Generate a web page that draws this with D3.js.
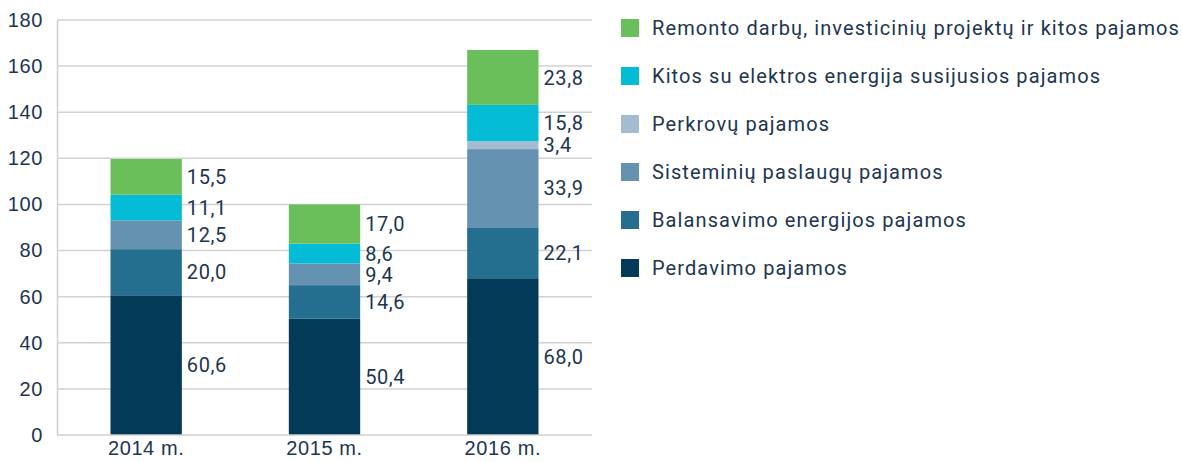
<!DOCTYPE html>
<html>
<head>
<meta charset="utf-8">
<script src="https://cdn.jsdelivr.net/npm/d3@7"></script>
<style>
  body { margin: 0; background: #fff; }
  svg { display: block; font-family: Roboto, "Noto Sans", sans-serif; }
</style>
</head>
<body>
<svg id="chart"></svg>
<script>
// Data
const years = ["2014 m.", "2015 m.", "2016 m."];
const seriesNames = [
  "Perdavimo pajamos",
  "Balansavimo energijos pajamos",
  "Sisteminių paslaugų pajamos",
  "Perkrovų pajamos",
  "Kitos su elektros energija susijusios pajamos",
  "Remonto darbų, investicinių projektų ir kitos pajamos"
];
const perdavimo = [60.6, 50.4, 68.0];
const balansavimo = [20.0, 14.6, 22.1];
const sisteminiu = [12.5, 9.4, 33.9];
const perkrovu = [0, 0, 3.4];
const kitosElektros = [11.1, 8.6, 15.8];
const remonto = [15.5, 17.0, 23.8];
const yTicks = [0, 20, 40, 60, 80, 100, 120, 140, 160, 180];

const seriesValues = [perdavimo, balansavimo, sisteminiu, perkrovu, kitosElektros, remonto];
const colors = ["#033a57", "#246f8f", "#6492b0", "#a4bccf", "#05bcd6", "#6abf5a"];
const textColor = "#1c3550";

const width = 1182, height = 462;
const margin = { left: 57, right: 592, top: 20, bottom: 435 };

const svg = d3.select("#chart").attr("width", width).attr("height", height);

const rows = years.map((y, i) => {
  const r = { year: y };
  seriesNames.forEach((s, j) => { r[s] = seriesValues[j][i]; });
  return r;
});

const stack = d3.stack().keys(seriesNames);
const stacked = stack(rows);

const x = d3.scaleBand().domain(years).range([margin.left, margin.right]).paddingInner(0.6).paddingOuter(0.3);
const y = d3.scaleLinear().domain([0, 180]).range([margin.bottom, margin.top]);

// Gridlines
svg.append("g")
  .selectAll("line")
  .data(yTicks.filter(d => d > 0))
  .join("line")
  .attr("x1", margin.left)
  .attr("x2", margin.right)
  .attr("y1", d => y(d))
  .attr("y2", d => y(d))
  .attr("stroke", "#d2d2d2")
  .attr("stroke-width", 1.5);

// Y axis
const yAxis = svg.append("g")
  .attr("transform", `translate(${margin.left},0)`)
  .call(d3.axisLeft(y).tickValues(yTicks).tickSize(0).tickPadding(14));
yAxis.select(".domain").attr("stroke", "#cfcfcf").attr("stroke-width", 1.5);
yAxis.selectAll("text").attr("fill", textColor).style("font-size", "20px").style("letter-spacing", "0.6px");

// Bars
const layers = svg.append("g")
  .selectAll("g")
  .data(stacked)
  .join("g")
  .attr("fill", (d, i) => colors[i]);

layers.selectAll("rect")
  .data(d => d.map(v => ({ v, year: v.data.year })))
  .join("rect")
  .attr("x", d => x(d.year))
  .attr("width", x.bandwidth())
  .attr("y", d => y(d.v[1]))
  .attr("height", d => y(d.v[0]) - y(d.v[1]));

// Value labels
const fmt = v => v.toFixed(1).replace(".", ",");
layers.selectAll("text")
  .data(d => d.map(v => ({ v, year: v.data.year })).filter(d => d.v[1] - d.v[0] > 0))
  .join("text")
  .attr("x", d => x(d.year) + x.bandwidth() + 5)
  .attr("y", d => y((d.v[0] + d.v[1]) / 2))
  .attr("dy", "0.36em")
  .attr("fill", textColor)
  .style("font-size", "20px")
  .style("letter-spacing", "0.6px")
  .text(d => fmt(d.v[1] - d.v[0]));

// X axis
const xAxis = svg.append("g")
  .attr("transform", `translate(0,${margin.bottom})`)
  .call(d3.axisBottom(x).tickSize(0).tickPadding(6));
xAxis.select(".domain").attr("stroke", "#cfcfcf").attr("stroke-width", 1.5)
  .attr("d", `M${margin.left},0H${margin.right}`);
xAxis.selectAll("text").attr("fill", textColor).style("font-size", "20px").style("letter-spacing", "0.6px");

// Legend
const legendOrder = seriesNames.map((s, i) => ({ s, c: colors[i] })).reverse();
const legend = svg.append("g")
  .selectAll("g")
  .data(legendOrder)
  .join("g")
  .attr("transform", (d, i) => `translate(621,${28 + i * 48})`);

legend.append("rect")
  .attr("x", 0).attr("y", -9)
  .attr("width", 18).attr("height", 18)
  .attr("fill", d => d.c);

legend.append("text")
  .attr("x", 31)
  .attr("dy", "0.36em")
  .attr("fill", textColor)
  .style("font-size", "20px")
  .style("letter-spacing", "1.1px")
  .text(d => d.s);
</script>
</body>
</html>
